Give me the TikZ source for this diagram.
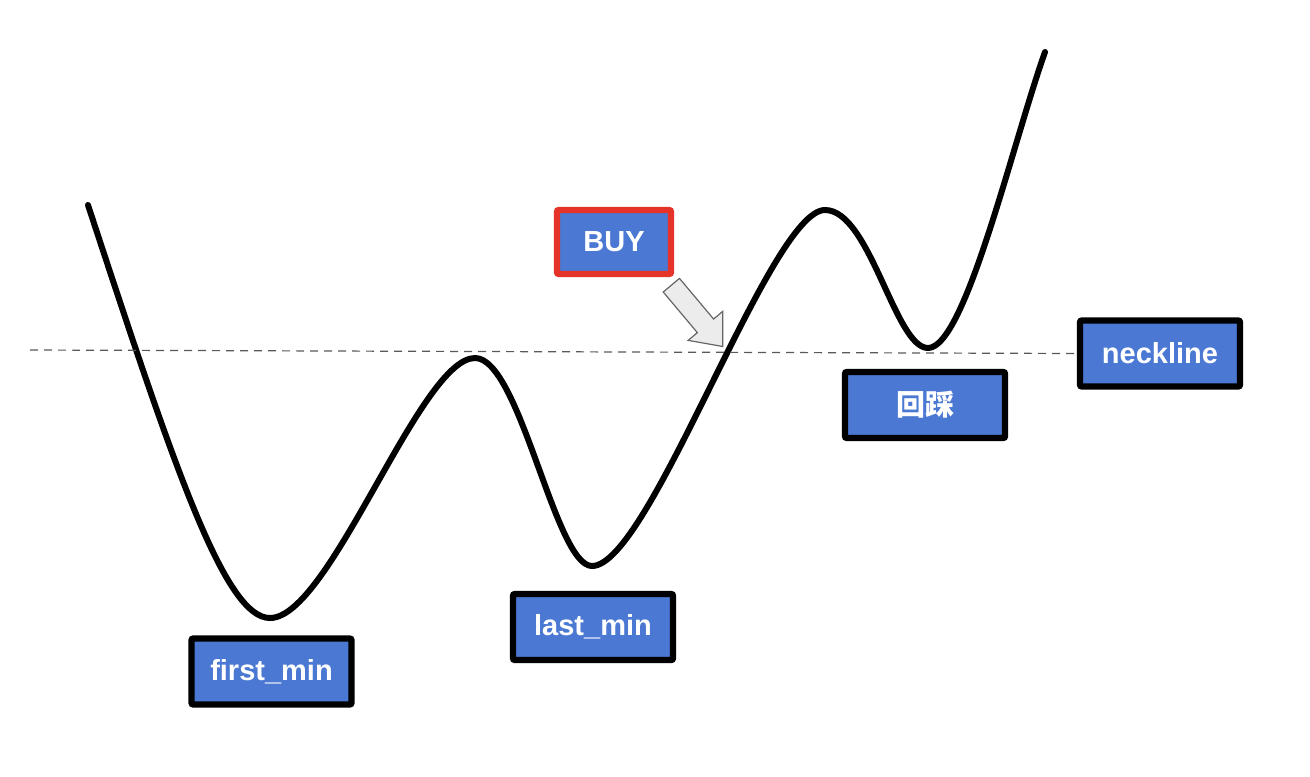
\documentclass[tikz,border=0pt]{standalone}
\usepackage{fontspec}
\setmainfont{Liberation Sans}
\newfontfamily\cjk{Noto Sans CJK SC}
\usetikzlibrary{shapes.arrows}
\begin{document}
\begin{tikzpicture}[x=0.5pt,y=-0.5pt,
	label box/.style={draw=black,line width=3.2pt,fill=boxblue,rounded corners=1pt,
		minimum width=80pt,minimum height=33pt,text=white,
		font=\fontsize{14.5}{17}\selectfont\bfseries},
	buy box/.style={label box,draw=buyred,minimum width=57pt,minimum height=32pt},
	hint arrow/.style={single arrow,draw=gray!80!black,fill=gray!15,line width=0.6pt,
		minimum height=40pt,inner xsep=0pt,inner ysep=5pt,single arrow head extend=6pt,
		single arrow tip angle=80}]
	\definecolor{boxblue}{RGB}{74,120,210}
	\definecolor{buyred}{RGB}{229,51,41}
	\useasboundingbox (0,0) rectangle (1310,776);
	% price curve
	\coordinate (start) at (88,205);
	\coordinate (firstmin) at (270,618);
	\coordinate (peak) at (475,358);
	\coordinate (lastmin) at (592,566);
	\coordinate (top) at (825,210);
	\coordinate (retest) at (928,348);
	\coordinate (end) at (1045,52);
	\draw[line width=3pt,line cap=round,line join=round] (start)
		.. controls (175,470) and (225,618) .. (firstmin)
		.. controls (330,618) and (420,358) .. (peak)
		.. controls (520,358) and (555,566) .. (lastmin)
		.. controls (650,566) and (770,210) .. (top)
		.. controls (870,210) and (895,348) .. (retest)
		.. controls (965,348) and (1012,145) .. (end);
	% labels
	\node[label box] (first) at (271.5,671.5) {first\_min};
	\node[label box] (last) at (593,627) {last\_min};
	\node[buy box] (buy) at (614,242) {BUY};
	\node[label box] (huicai) at (925,405) {\cjk\bfseries 回踩};
	\node[label box] (neck) at (1160,353.5) {neckline};
	\coordinate (neckstart) at (30,350);
	\draw[gray!70!black,line width=0.6pt,dash pattern=on 4pt off 3pt] (neckstart) -- (neck.west);
	\node[hint arrow,rotate=-50] (buyarrow) at (693,311) {};
\end{tikzpicture}
\end{document}
